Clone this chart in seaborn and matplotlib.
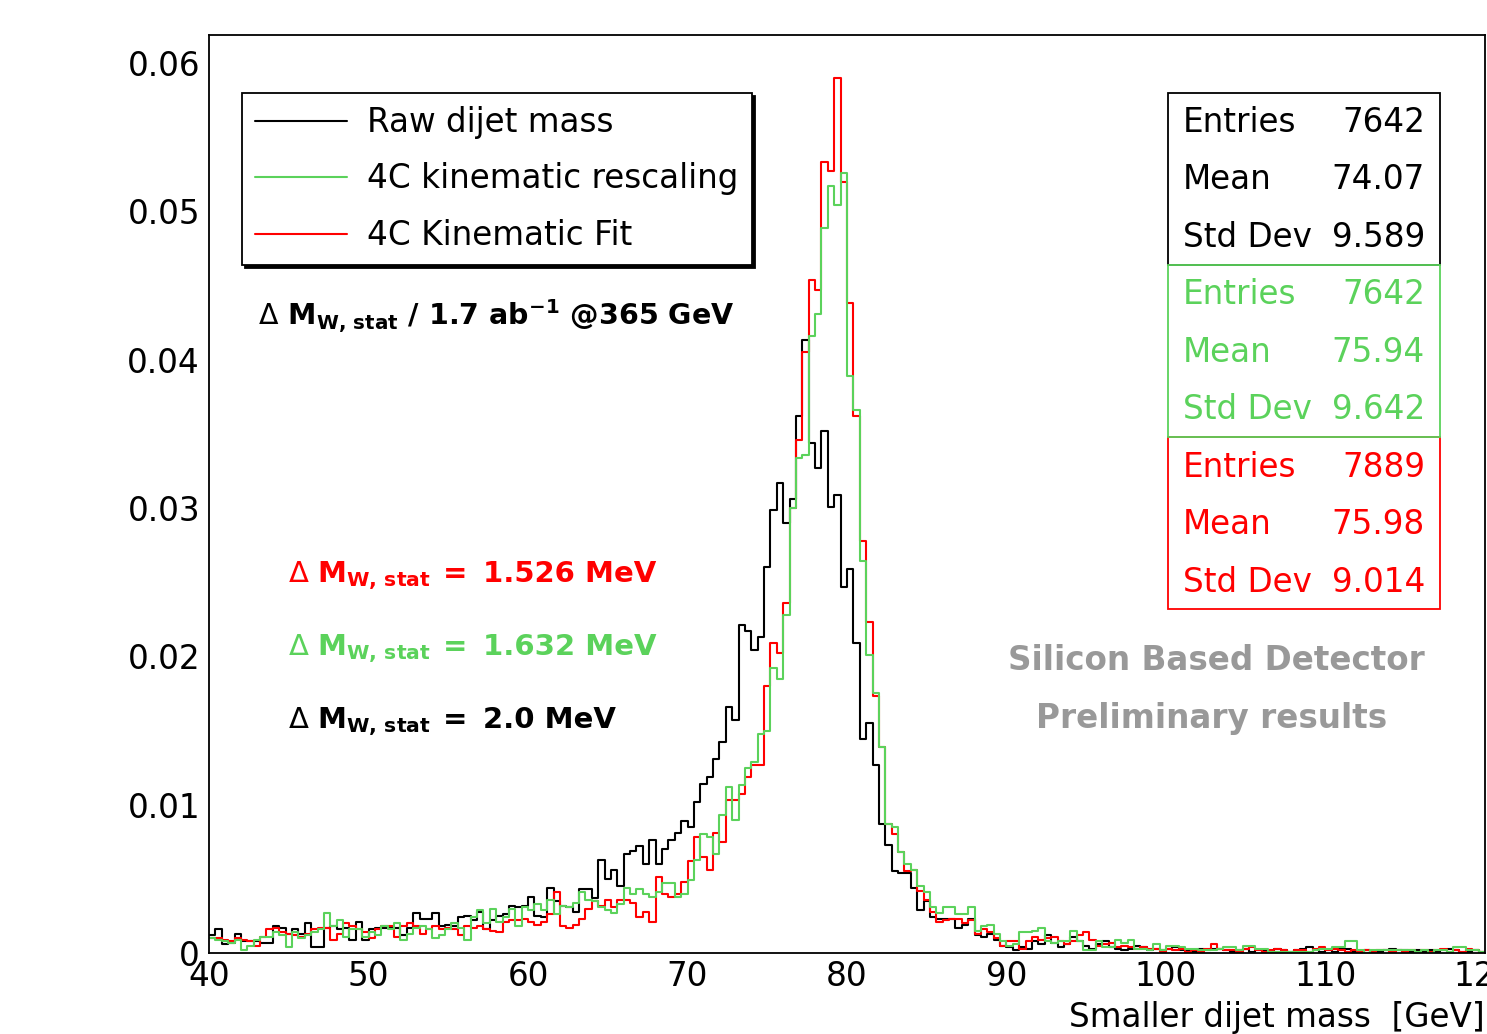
import numpy as np
import pandas as pd
import matplotlib
matplotlib.use("Agg")
import matplotlib.pyplot as plt
from matplotlib.patches import Rectangle
from matplotlib.ticker import MultipleLocator, FuncFormatter
import seaborn as sns

# 200 bins of 0.4 GeV between 40 and 120 GeV
bin_edges = np.round(np.arange(40.0, 120.0001, 0.4), 1)

raw_mass = [
    0.0012, 0.0016, 0.0006, 0.0007, 0.0013, 0.0008, 0.0008, 0.0008, 0.0007, 0.0007,
    0.0018, 0.0017, 0.0013, 0.0016, 0.0013, 0.0020, 0.0004, 0.0004, 0.0017, 0.0018,
    0.0016, 0.0017, 0.0009, 0.0021, 0.0009, 0.0016, 0.0017, 0.0017, 0.0017, 0.0017,
    0.0012, 0.0017, 0.0027, 0.0023, 0.0023, 0.0027, 0.0018, 0.0019, 0.0018, 0.0024,
    0.0025, 0.0022, 0.0028, 0.0016, 0.0022, 0.0025, 0.0026, 0.0032, 0.0031, 0.0032,
    0.0038, 0.0025, 0.0024, 0.0044, 0.0035, 0.0032, 0.0031, 0.0028, 0.0043, 0.0043,
    0.0037, 0.0063, 0.0050, 0.0056, 0.0045, 0.0067, 0.0069, 0.0072, 0.0060, 0.0076,
    0.0060, 0.0070, 0.0076, 0.0081, 0.0089, 0.0085, 0.0102, 0.0114, 0.0119, 0.0131,
    0.0142, 0.0166, 0.0157, 0.0221, 0.0217, 0.0204, 0.0213, 0.0260, 0.0299, 0.0317,
    0.0290, 0.0306, 0.0362, 0.0413, 0.0344, 0.0327, 0.0352, 0.0301, 0.0309, 0.0247,
    0.0259, 0.0209, 0.0144, 0.0155, 0.0127, 0.0087, 0.0073, 0.0055, 0.0054, 0.0054,
    0.0044, 0.0029, 0.0035, 0.0024, 0.0023, 0.0023, 0.0023, 0.0017, 0.0019, 0.0023,
    0.0012, 0.0011, 0.0013, 0.0009, 0.0005, 0.0004, 0.0002, 0.0004, 0.0003, 0.0008,
    0.0006, 0.0012, 0.0007, 0.0004, 0.0006, 0.0011, 0.0008, 0.0005, 0.0003, 0.0006,
    0.0008, 0.0004, 0.0003, 0.0002, 0.0003, 0.0005, 0.0004, 0.0002, 0.0003, 0.0002,
    0.0003, 0.0004, 0.0002, 0.0002, 0.0001, 0.0003, 0.0002, 0.0003, 0.0003, 0.0002,
    0.0001, 0.0002, 0.0003, 0.0001, 0.0002, 0.0002, 0.0001, 0.0003, 0.0002, 0.0001,
    0.0002, 0.0003, 0.0004, 0.0002, 0.0001, 0.0002, 0.0001, 0.0003, 0.0003, 0.0001,
    0.0001, 0.0002, 0.0001, 0.0001, 0.0002, 0.0003, 0.0002, 0.0002, 0.0001, 0.0002,
    0.0001, 0.0002, 0.0001, 0.0002, 0.0003, 0.0002, 0.0001, 0.0001, 0.0002, 0.0001,
]

rescaled_mass = [
    0.0010, 0.0009, 0.0008, 0.0007, 0.0009, 0.0002, 0.0005, 0.0009, 0.0011, 0.0011,
    0.0014, 0.0012, 0.0004, 0.0014, 0.0010, 0.0012, 0.0014, 0.0016, 0.0027, 0.0018,
    0.0022, 0.0011, 0.0016, 0.0016, 0.0011, 0.0014, 0.0012, 0.0018, 0.0016, 0.0020,
    0.0009, 0.0013, 0.0017, 0.0018, 0.0016, 0.0010, 0.0012, 0.0016, 0.0020, 0.0017,
    0.0009, 0.0024, 0.0029, 0.0020, 0.0030, 0.0021, 0.0024, 0.0030, 0.0018, 0.0031,
    0.0029, 0.0033, 0.0029, 0.0036, 0.0026, 0.0032, 0.0031, 0.0034, 0.0041, 0.0036,
    0.0035, 0.0031, 0.0029, 0.0027, 0.0033, 0.0044, 0.0040, 0.0043, 0.0040, 0.0038,
    0.0041, 0.0047, 0.0047, 0.0038, 0.0040, 0.0049, 0.0063, 0.0080, 0.0078, 0.0067,
    0.0093, 0.0112, 0.0090, 0.0113, 0.0125, 0.0129, 0.0148, 0.0150, 0.0192, 0.0185,
    0.0228, 0.0300, 0.0334, 0.0336, 0.0416, 0.0431, 0.0489, 0.0517, 0.0504, 0.0526,
    0.0389, 0.0366, 0.0264, 0.0201, 0.0175, 0.0139, 0.0087, 0.0085, 0.0068, 0.0060,
    0.0056, 0.0045, 0.0041, 0.0031, 0.0027, 0.0031, 0.0031, 0.0026, 0.0026, 0.0031,
    0.0015, 0.0018, 0.0019, 0.0013, 0.0008, 0.0005, 0.0006, 0.0014, 0.0014, 0.0015,
    0.0017, 0.0008, 0.0007, 0.0008, 0.0008, 0.0015, 0.0008, 0.0002, 0.0002, 0.0008,
    0.0004, 0.0004, 0.0009, 0.0007, 0.0009, 0.0003, 0.0003, 0.0002, 0.0006, 0.0002,
    0.0005, 0.0005, 0.0004, 0.0003, 0.0003, 0.0002, 0.0002, 0.0002, 0.0003, 0.0004,
    0.0004, 0.0002, 0.0005, 0.0005, 0.0003, 0.0003, 0.0001, 0.0001, 0.0001, 0.0001,
    0.0001, 0.0001, 0.0001, 0.0002, 0.0003, 0.0003, 0.0004, 0.0004, 0.0008, 0.0008,
    0.0002, 0.0000, 0.0002, 0.0002, 0.0002, 0.0002, 0.0002, 0.0002, 0.0002, 0.0001,
    0.0002, 0.0000, 0.0002, 0.0002, 0.0001, 0.0004, 0.0004, 0.0002, 0.0002, 0.0001,
]

fit_mass = [
    0.0010, 0.0010, 0.0009, 0.0008, 0.0010, 0.0009, 0.0008, 0.0005, 0.0011, 0.0016,
    0.0017, 0.0014, 0.0013, 0.0012, 0.0011, 0.0013, 0.0016, 0.0017, 0.0017, 0.0009,
    0.0013, 0.0020, 0.0018, 0.0016, 0.0014, 0.0010, 0.0016, 0.0018, 0.0018, 0.0011,
    0.0018, 0.0020, 0.0018, 0.0013, 0.0016, 0.0018, 0.0016, 0.0017, 0.0016, 0.0012,
    0.0018, 0.0017, 0.0018, 0.0016, 0.0015, 0.0014, 0.0021, 0.0022, 0.0022, 0.0023,
    0.0021, 0.0019, 0.0021, 0.0026, 0.0041, 0.0018, 0.0017, 0.0019, 0.0023, 0.0030,
    0.0035, 0.0032, 0.0036, 0.0031, 0.0036, 0.0036, 0.0034, 0.0024, 0.0028, 0.0021,
    0.0051, 0.0040, 0.0038, 0.0040, 0.0048, 0.0062, 0.0078, 0.0065, 0.0056, 0.0081,
    0.0075, 0.0103, 0.0103, 0.0107, 0.0119, 0.0127, 0.0127, 0.0180, 0.0209, 0.0202,
    0.0236, 0.0300, 0.0346, 0.0405, 0.0454, 0.0447, 0.0533, 0.0527, 0.0590, 0.0520,
    0.0438, 0.0362, 0.0278, 0.0223, 0.0173, 0.0139, 0.0087, 0.0080, 0.0068, 0.0055,
    0.0056, 0.0042, 0.0036, 0.0028, 0.0021, 0.0022, 0.0023, 0.0023, 0.0020, 0.0022,
    0.0013, 0.0016, 0.0014, 0.0010, 0.0005, 0.0008, 0.0008, 0.0003, 0.0008, 0.0011,
    0.0009, 0.0010, 0.0011, 0.0008, 0.0006, 0.0008, 0.0012, 0.0014, 0.0009, 0.0005,
    0.0006, 0.0007, 0.0004, 0.0005, 0.0004, 0.0003, 0.0004, 0.0003, 0.0003, 0.0001,
    0.0003, 0.0002, 0.0003, 0.0001, 0.0002, 0.0001, 0.0003, 0.0006, 0.0003, 0.0002,
    0.0002, 0.0001, 0.0003, 0.0004, 0.0002, 0.0001, 0.0002, 0.0003, 0.0002, 0.0001,
    0.0002, 0.0002, 0.0001, 0.0003, 0.0004, 0.0002, 0.0003, 0.0002, 0.0001, 0.0002,
    0.0001, 0.0002, 0.0001, 0.0002, 0.0002, 0.0001, 0.0002, 0.0001, 0.0002, 0.0001,
    0.0002, 0.0001, 0.0002, 0.0003, 0.0001, 0.0002, 0.0001, 0.0003, 0.0002, 0.0001,
]

series_labels = ["Raw dijet mass", "4C kinematic rescaling", "4C Kinematic Fit"]
series_colors = ["black", "#5bd25b", "#ff0000"]

stats_entries = ["7642", "7642", "7889"]
stats_mean = ["74.07", "75.94", "75.98"]
stats_std = ["9.589", "9.642", "9.014"]

delta_values = ["2.0 MeV", "1.632 MeV", "1.526 MeV"]

centers = (bin_edges[:-1] + bin_edges[1:]) / 2
df = pd.DataFrame({
    "mass": np.tile(centers, 3),
    "weight": raw_mass + rescaled_mass + fit_mass,
    "sample": np.repeat(series_labels, len(centers)),
})

sns.set_style("white")
plt.rcParams["font.family"] = ["DejaVu Sans"]
plt.rcParams["text.color"] = "black"
plt.rcParams["axes.labelcolor"] = "black"
plt.rcParams["xtick.color"] = "black"
plt.rcParams["ytick.color"] = "black"
FS = 23.5
FS_NOTE = 21

fig = plt.figure(figsize=(14.87, 10.34), dpi=100)
ax = fig.add_axes([0.1406, 0.0783, 0.858, 0.888])

# draw raw, then fit, then rescaling on top
for idx in [0, 2, 1]:
    sns.histplot(
        data=df[df["sample"] == series_labels[idx]],
        x="mass", weights="weight", bins=bin_edges.tolist(),
        element="step", fill=False, color=series_colors[idx],
        linewidth=1.5, ax=ax, label=series_labels[idx],
    )

ax.set_xlim(40, 120)
ax.set_ylim(0, 0.0619)
ax.set_ylabel("")
ax.set_xlabel("Smaller dijet mass  [GeV]", fontsize=FS, loc="right", color="black")
ax.xaxis.set_label_coords(1.0, -0.0806)
ax.xaxis.label.set_va("baseline")

for sp in ax.spines.values():
    sp.set_visible(True)
    sp.set_color("black")
    sp.set_linewidth(1.3)

ax.xaxis.set_major_locator(MultipleLocator(10))
ax.xaxis.set_minor_locator(MultipleLocator(2))
ax.yaxis.set_major_locator(MultipleLocator(0.01))
ax.yaxis.set_minor_locator(MultipleLocator(0.002))
ax.yaxis.set_major_formatter(FuncFormatter(lambda v, p: "0" if abs(v) < 1e-9 else f"{v:.2f}"))
ax.xaxis.set_major_formatter(FuncFormatter(lambda v, p: f"{v:.0f}"))
ax.tick_params(axis="both", which="both", direction="in", top=False, right=False,
               color="black", labelcolor="black", width=1.3)
ax.tick_params(axis="y", which="major", length=27, pad=6.5, labelsize=FS)
ax.tick_params(axis="y", which="minor", length=14)
ax.tick_params(axis="x", which="major", length=21.5, pad=5, labelsize=FS)
ax.tick_params(axis="x", which="minor", length=11)

# legend
handles, labels = ax.get_legend_handles_labels()
hmap = dict(zip(labels, handles))
leg = ax.legend(
    [hmap[l] for l in series_labels], series_labels,
    loc="upper left", bbox_to_anchor=(0.0259, 0.9368), borderaxespad=0,
    fontsize=FS, frameon=True, fancybox=False, framealpha=1,
    edgecolor="black", facecolor="white", labelcolor="black",
    handlelength=2.82, handletextpad=0.62, borderpad=0.4, labelspacing=0.72,
    shadow={"color": "black", "alpha": 1},
)
leg.get_frame().set_linewidth(1.3)

# stats boxes
box_x0, box_x1 = 0.7516, 0.9647
box_tops = [0.9368, 0.7495, 0.5621]
box_h = 0.1873
for idx in [0, 2, 1]:
    ax.add_patch(Rectangle((box_x0, box_tops[idx] - box_h), box_x1 - box_x0, box_h,
                           transform=ax.transAxes, fill=False,
                           edgecolor=series_colors[idx], linewidth=1.3, zorder=5))
row_step = 57.5 / 918
for idx in range(3):
    base = (953 - 132) / 918 - idx * 3 * row_step
    rows = [("Entries", stats_entries[idx]), ("Mean", stats_mean[idx]), ("Std Dev", stats_std[idx])]
    for r, (name, val) in enumerate(rows):
        y = base - r * row_step
        ax.text(0.7633, y, name, transform=ax.transAxes, fontsize=FS,
                color=series_colors[idx], ha="left", va="baseline")
        ax.text(0.9530, y, val, transform=ax.transAxes, fontsize=FS,
                color=series_colors[idx], ha="right", va="baseline")

# annotations
ax.text(0.0384, 0.6841,
        r"$\Delta$ $\mathbf{M_{W,\,stat}}$ / 1.7 ab$^{\mathbf{-1}}$ @365 GeV",
        transform=ax.transAxes, fontsize=FS_NOTE - 0.5, fontweight="bold",
        ha="left", va="baseline", color="black")

delta_y = [0.2451, 0.3246, 0.4041]
for idx in range(3):
    c = series_colors[idx]
    y = delta_y[idx]
    ax.text(0.0619, y, r"$\Delta$ $\mathbf{M_{W,\,stat}}$", transform=ax.transAxes,
            fontsize=FS_NOTE, color=c, ha="left", va="baseline")
    ax.text((443 - 209) / 1276, y, "=", transform=ax.transAxes, fontsize=FS_NOTE,
            fontweight="bold", color=c, ha="left", va="baseline")
    ax.text((483 - 209) / 1276, y, delta_values[idx], transform=ax.transAxes,
            fontsize=FS_NOTE, fontweight="bold", color=c, ha="left", va="baseline")

ax.text(0.7896, 0.3083, "Silicon Based Detector", transform=ax.transAxes,
        fontsize=FS, fontweight="bold", color="#999999", ha="center", va="baseline")
ax.text(0.7860, 0.2451, "Preliminary results", transform=ax.transAxes,
        fontsize=FS, fontweight="bold", color="#999999", ha="center", va="baseline")

fig.savefig("out.png", dpi=100)
